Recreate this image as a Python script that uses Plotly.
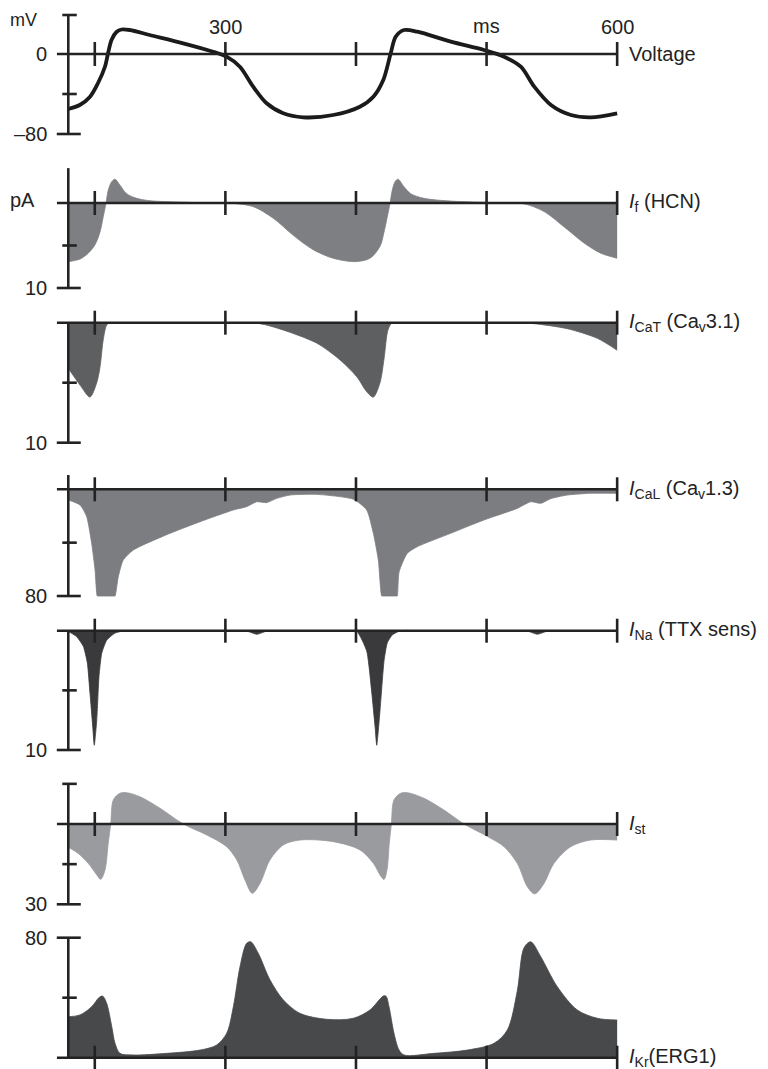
import plotly.graph_objects as go

# ---------------- data ----------------
x_ticks = [200, 300, 400, 500, 600]
x_top_labels = ["300", "ms", "600"]
x_top_label_pos = [300, 500, 600]

volt_t = [179.7, 188.5, 196.2, 202.5, 207.7, 210.2, 212.8, 216.6, 220.5, 226.8, 242.0, 267.7,
          290.6, 300.9, 311.1, 321.3, 331.6, 344.3, 359.6, 382.6, 403.0, 413.3, 420.9, 426.6,
          430.4, 436.8, 447.0, 472.6, 498.1, 513.4, 526.2, 536.5, 549.3, 564.6, 579.9, 600.0]
volt_mv = [-55, -51, -43, -29, -13, 1, 14, 22, 24.5, 24, 19, 10.7,
           2.3, -2.7, -12.7, -32.7, -49.3, -59.3, -63.3, -61, -52.7, -42.7, -26, 0.7,
           17.3, 24, 22.3, 12.3, 4, -2.7, -12.7, -32.7, -51, -61, -63.3, -59.3]

if_t = [179.7, 188.7, 195.0, 200.2, 204.0, 206.5, 208.6, 210.3, 212.9, 215.5, 219.3, 224.4,
        232.1, 242.3, 267.8, 290.0, 300.0, 306.1, 321.4, 336.7, 352.0, 367.3, 382.6, 399.3, 410.7,
        418.4, 421.5, 424.0, 426.1, 427.8, 429.9, 432.2, 436.8, 441.9, 452.1, 472.5, 498.0,
        515.0, 528.7, 544.0, 559.3, 574.6, 587.4, 600.0]
if_pa = [6.9, 6.6, 5.9, 4.9, 3.4, 1.6, 0, -1.5, -2.5, -2.8, -2.1, -1.1,
         -0.55, -0.27, -0.1, 0, 0, 0.05, 0.43, 1.8, 3.8, 5.5, 6.5, 6.9, 6.5,
         5.1, 3.4, 1.6, 0, -1.5, -2.5, -2.8, -1.9, -1.1, -0.55, -0.23, -0.08,
         0, 0.1, 1.0, 2.8, 4.7, 5.9, 6.5]

icat_t = [179.7, 188.7, 196.3, 201.5, 204.0, 206.5, 209.1, 211.6, 214.0, 230.0, 270.0, 310.0,
          326.5, 344.1, 369.9, 387.8, 400.6, 408.2, 413.3, 418.4, 421.5, 424.5, 427.6, 430.0,
          450.0, 490.0, 525.0, 536.3, 561.8, 584.8, 600.0]
icat_pa = [3.8, 5.2, 6.2, 5.0, 3.7, 1.4, 0.2, 0, 0, 0, 0, 0,
           0.08, 0.6, 1.7, 3.1, 4.5, 5.75, 6.2, 5.0, 3.0, 0.6, 0, 0,
           0, 0, 0, 0.08, 0.5, 1.3, 2.3]

ical_t = [179.7, 188.7, 193.8, 197.6, 200.2, 201.9, 202.6, 214.8, 215.5, 218.0, 221.8, 229.5,
          255.1, 280.6, 306.1, 316.3, 324.0, 331.6, 339.3, 349.5, 369.9, 398.0, 408.2, 413.3,
          417.1, 419.7, 420.4, 430.9, 431.6, 433.0, 439.3, 447.0, 472.5, 498.0, 523.5, 533.8,
          541.5, 549.1, 561.8, 579.8, 600.0]
ical_pa = [8, 11.8, 20.5, 40.5, 60.5, 80, 80, 80, 80, 65.5, 53, 45.5,
           34, 24.3, 15.5, 13, 9.3, 10, 6.8, 4.3, 3.8, 7.5, 15.5, 33,
           53, 80, 80, 80, 80, 62, 48, 43, 33, 23, 14.3, 9.3,
           10.5, 7, 4.3, 3, 3]

ina_t = [179.7, 186.1, 191.2, 194.3, 196.3, 198.4, 199.6, 201.5, 203.2, 205.3, 209.1, 215.5,
         223.1, 240.0, 300.0, 314.0, 317.0, 324.2, 331.0, 334.0, 350.0, 390.0, 400.6, 408.2,
         412.1, 414.6, 415.9, 418.4, 421.5, 424.0, 427.8, 434.3, 450.0, 500.0, 529.0, 532.0,
         538.9, 546.0, 549.0, 570.0, 600.0]
ina_pa = [0.05, 0.5, 1.3, 2.7, 5.2, 8, 9.6, 7.5, 3.85, 1.9, 0.8, 0.2,
          0, 0, 0, 0, 0.05, 0.3, 0.05, 0, 0, 0, 0.05, 1.7,
          5.2, 8, 9.6, 6.7, 2.5, 1.0, 0.35, 0, 0, 0, 0, 0.05,
          0.3, 0.05, 0, 0, 0]

ist_t = [179.7, 187.4, 195.0, 201.5, 204.5, 207.8, 210.3, 212.2, 214.2, 219.3, 224.4, 234.6,
         249.9, 267.8, 285.7, 301.0, 308.7, 315.0, 320.6, 326.5, 334.2, 344.4, 357.1, 382.6,
         403.1, 413.3, 419.0, 421.5, 423.8, 425.5, 427.1, 429.1, 434.3, 439.3, 452.1, 467.4,
         482.7, 500.1, 513.4, 523.5, 531.2, 536.9, 544.0, 551.6, 564.4, 579.7, 600.0]
ist_pa = [8.7, 11, 14.7, 19, 20.7, 17.2, 7.2, 0, -9, -11.5, -11.7, -10.2,
          -5.9, 0, 4.1, 8.5, 13.4, 20.9, 25.9, 22.2, 13.4, 7.8, 6, 6.6,
          9.7, 14.7, 19.5, 20.7, 17, 7.2, 0, -9, -11.5, -11.7, -9.6, -5.2,
          0, 4.5, 8.5, 14.7, 23.4, 26.1, 22.2, 14.7, 8.5, 6, 6]

ikr_t = [179.7, 188.7, 197.6, 203.5, 206.1, 209.1, 213.0, 215.5, 219.3, 229.5, 255.1, 280.6,
         293.4, 301.0, 306.1, 311.2, 316.3, 319.4, 325.2, 334.2, 344.4, 357.1, 377.6, 398.0,
         410.7, 420.9, 423.0, 425.3, 429.1, 433.0, 436.8, 459.8, 485.3, 505.7, 515.9, 523.5,
         528.7, 533.8, 541.5, 554.2, 569.5, 584.8, 600.0]
ikr_pa = [27.3, 28.5, 34, 40.3, 41, 36.3, 20.7, 9.6, 2.9, 1.8, 2.9, 5.1,
          8.5, 16.3, 34, 60.7, 76.3, 77.3, 69.6, 51.8, 38.5, 29.6, 25.6, 26.3,
          31.8, 41.1, 41, 34, 16.3, 5.1, 1.8, 2.9, 5.1, 9.6, 18.5, 44.5,
          73.3, 77.3, 67.3, 47.3, 31.8, 26.3, 25.1]

trace_names = ["Voltage", "<i>I</i><sub>f</sub> (HCN)", "<i>I</i><sub>CaT</sub> (Ca<sub>v</sub>3.1)",
               "<i>I</i><sub>CaL</sub> (Ca<sub>v</sub>1.3)", "<i>I</i><sub>Na</sub> (TTX sens)",
               "<i>I</i><sub>st</sub>", "<i>I</i><sub>Kr</sub>(ERG1)"]
series_t = [volt_t, if_t, icat_t, ical_t, ina_t, ist_t, ikr_t]
series_v = [volt_mv, if_pa, icat_pa, ical_pa, ina_pa, ist_pa, ikr_pa]

# scale-bar extents and tick values (units of each panel)
bar_extent = [(39, -80), (-4.1, 10), (0, 10), (-10.7, 80), (0, 10), (-15, 30), (80, 0)]
bar_ticks = [[39, -40, -80], [5, 10], [5, 10], [40, 80], [5, 10], [-15, 15, 30], [80, 40]]
bar_long = [[-80], [10], [10], [80], [10], [30], [80]]
bar_labels = [[(0, "0"), (-80, "–80")], [(10, "10")], [(10, "10")], [(80, "80")],
              [(10, "10")], [(30, "30")], [(80, "80")]]

# ---------------- layout / style ----------------
OFF = 8                 # page body margin of the html page
W, H = 768 - OFF, 1069 - OFF
PX_L, PX_R = 53, 625    # plot area in page pixels
ML, MR = PX_L - OFF, 768 - PX_R
PW = W - ML - MR
X_RANGE = [168, 606]
BAR_T = 179.7
LINE_T0 = 171
INK = "#232323"
FONT = "Liberation Sans, Arial, Helvetica, sans-serif"
FS = 20

# zero pixel, px per unit, positive-up?, domain top px, domain bottom px (page pixels)
panels = [
    (54.0, 1.0, True, 8, 142),
    (203.0, 8.5, False, 158, 296),
    (322.7, 12.0, False, 304, 452),
    (489.3, 1.334, False, 462, 604),
    (630.7, 11.93, False, 612, 760),
    (824.0, 2.677, False, 772, 914),
    (1057.7, 1.5, True, 924, 1069),
]
fills = [None, "#7e7f82", "#5e5f61", "#7c7d80", "#3a3a3c", "#9a9b9e", "#48494b"]
smooth = [0.9, 0.9, 0.8, 0.6, 0.5, 0.9, 0.9]


def px_x(p):
    return (p - PX_L) / PW


def px_y(p):
    return 1 - (p - OFF) / H


fig = go.Figure()
layout = dict(
    width=W, height=H, margin=dict(l=ML, r=MR, t=0, b=0, pad=0),
    paper_bgcolor="white", plot_bgcolor="white", showlegend=False, hovermode=False,
    xaxis=dict(range=X_RANGE, visible=False, fixedrange=True),
)
shapes, annos = [], []

for i, (zero, sc, up, top, bot) in enumerate(panels):
    n = i + 1
    yname = "y" if n == 1 else f"y{n}"
    lname = "yaxis" if n == 1 else f"yaxis{n}"
    if up:
        rng = [(zero - bot) / sc, (zero - top) / sc]
    else:
        rng = [(bot - zero) / sc, (top - zero) / sc]
    layout[lname] = dict(range=rng, domain=[max(0, px_y(bot)), min(1, px_y(top))],
                         visible=False, fixedrange=True, anchor="x")
    if fills[i] is None:
        fig.add_trace(go.Scatter(x=series_t[i], y=series_v[i], mode="lines", yaxis=yname,
                                 line=dict(color="#1b1b1b", width=3.8, shape="spline",
                                           smoothing=smooth[i])))
    else:
        fig.add_trace(go.Scatter(x=series_t[i], y=series_v[i], mode="lines", yaxis=yname,
                                 fill="tozeroy", fillcolor=fills[i],
                                 line=dict(color=fills[i], width=0.8, shape="spline",
                                           smoothing=smooth[i])))
    # zero line
    shapes.append(dict(type="line", xref="x", yref=yname, x0=LINE_T0, x1=600,
                       y0=0, y1=0, line=dict(color=INK, width=2.6)))
    # ticks crossing the zero line
    for xt in x_ticks:
        shapes.append(dict(type="line", xref="x", yref=yname, x0=xt, x1=xt,
                           ysizemode="pixel", yanchor=0, y0=-12, y1=12,
                           line=dict(color=INK, width=2.6)))
    # vertical scale bar
    y_a, y_b = bar_extent[i]
    shapes.append(dict(type="line", xref="x", yref=yname, x0=BAR_T, x1=BAR_T, y0=y_a, y1=y_b,
                       line=dict(color=INK, width=2.6)))
    for tv in bar_ticks[i]:
        x0, x1 = (-11.5, 12.5) if tv in bar_long[i] else (-6, 8.5)
        shapes.append(dict(type="line", xref="x", yref=yname, xsizemode="pixel", xanchor=BAR_T,
                           x0=x0, x1=x1, y0=tv, y1=tv, line=dict(color=INK, width=2.6)))
    for tv, txt in bar_labels[i]:
        annos.append(dict(xref="paper", yref=yname, x=px_x(49), y=tv,
                          text=txt, showarrow=False, xanchor="right", yanchor="middle",
                          font=dict(family=FONT, size=FS, color=INK)))
    # right-hand name
    annos.append(dict(xref="paper", yref=yname, x=px_x(627), y=0,
                      text=trace_names[i], showarrow=False, xanchor="left", yanchor="middle",
                      font=dict(family=FONT, size=FS, color=INK)))

# top time labels
for xv, txt in zip(x_top_label_pos, x_top_labels):
    annos.append(dict(xref="x", yref="y", x=xv, y=28.5 if txt == "ms" else 27, text=txt,
                      showarrow=False, xanchor="center", yanchor="middle",
                      font=dict(family=FONT, size=FS, color=INK)))
# unit labels
annos.append(dict(xref="paper", yref="y", x=px_x(8), y=34, text="mV",
                  showarrow=False, xanchor="left", yanchor="middle",
                  font=dict(family=FONT, size=18, color=INK)))
annos.append(dict(xref="paper", yref="y2", x=px_x(8), y=-0.4, text="pA",
                  showarrow=False, xanchor="left", yanchor="middle",
                  font=dict(family=FONT, size=FS, color=INK)))

layout["shapes"] = shapes
layout["annotations"] = annos
fig.update_layout(**layout)
fig.write_html("out.html")
